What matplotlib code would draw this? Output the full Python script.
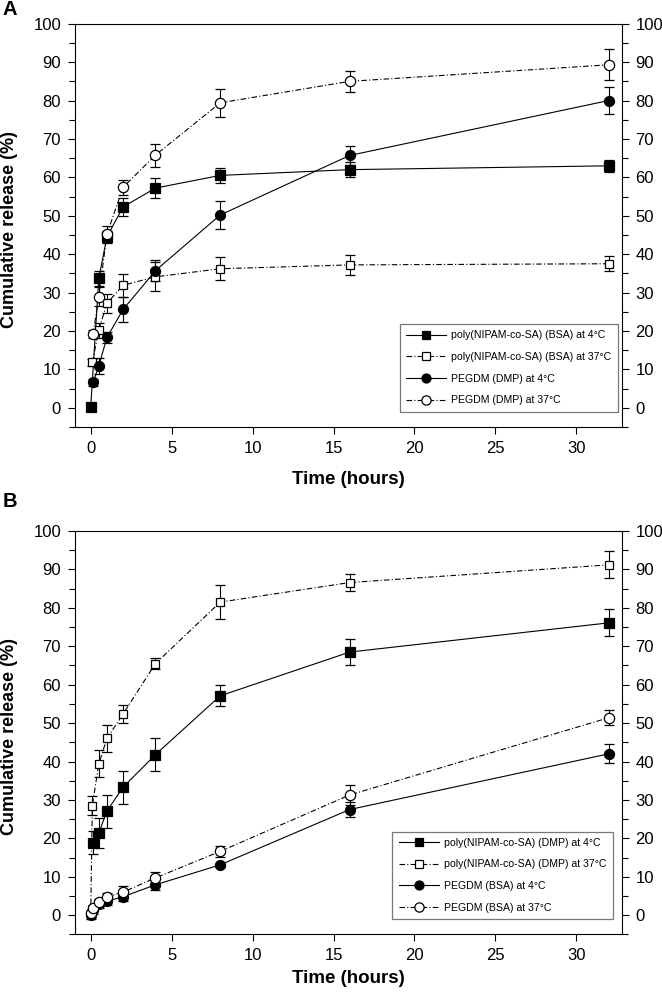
import numpy as np
import matplotlib.pyplot as plt
from matplotlib.ticker import MultipleLocator

plt.rcParams['font.family'] = ['Liberation Sans', 'DejaVu Sans']

# panel A
a_sq_f_x = [0, 0.5, 1, 2, 4, 8, 16, 32]
a_sq_f_y = [0.1, 33.7, 44.5, 52.3, 57.2, 60.5, 62.0, 63.0]
a_sq_f_e = [0.5, 2.0, 1.5, 2.3, 2.5, 2.0, 2.0, 1.5]

a_sq_o_x = [0.1, 0.5, 1, 2, 4, 8, 16, 32]
a_sq_o_y = [11.8, 20.2, 27.2, 31.9, 34.1, 36.2, 37.2, 37.5]
a_sq_o_e = [1.0, 2.0, 2.5, 3.0, 3.8, 3.0, 2.5, 2.0]

a_ci_f_x = [0.15, 0.5, 1, 2, 4, 8, 16, 32]
a_ci_f_y = [6.6, 10.9, 18.3, 25.6, 35.7, 50.2, 65.7, 80.0]
a_ci_f_e = [1.0, 2.0, 1.5, 3.3, 2.7, 3.7, 2.5, 3.5]

a_ci_o_x = [0.15, 0.5, 1, 2, 4, 8, 16, 32]
a_ci_o_y = [19.2, 28.9, 45.2, 57.4, 65.8, 79.4, 85.0, 89.3]
a_ci_o_e = [1.0, 2.5, 2.0, 2.0, 3.0, 3.7, 2.7, 4.0]

a_labels = ["poly(NIPAM-co-SA) (BSA) at 4\u00b0C",
            "poly(NIPAM-co-SA) (BSA) at 37\u00b0C",
            "PEGDM (DMP) at 4\u00b0C",
            "PEGDM (DMP) at 37\u00b0C"]

# panel B
b_sq_f_x = [0.15, 0.5, 1, 2, 4, 8, 16, 32]
b_sq_f_y = [18.9, 21.4, 27.1, 33.3, 41.8, 57.1, 68.5, 76.1]
b_sq_f_e = [3.0, 4.0, 4.3, 4.3, 4.3, 2.7, 3.5, 3.5]

b_sq_o_x = [0, 0.1, 0.5, 1, 2, 4, 8, 16, 32]
b_sq_o_y = [0.0, 28.5, 39.4, 46.0, 52.4, 65.5, 81.5, 86.6, 91.2]
b_sq_o_e = [0.0, 2.5, 3.5, 3.5, 2.3, 1.5, 4.5, 2.2, 3.5]

b_ci_f_x = [0, 0.15, 0.5, 1, 2, 4, 8, 16, 32]
b_ci_f_y = [0.0, 1.3, 2.8, 3.6, 4.8, 7.9, 13.1, 27.5, 42.0]
b_ci_f_e = [1.0, 1.0, 1.0, 1.0, 1.2, 1.3, 0.6, 2.0, 2.5]

b_ci_o_x = [0, 0.15, 0.5, 1, 2, 4, 8, 16, 32]
b_ci_o_y = [0.5, 1.8, 3.3, 4.7, 6.0, 9.7, 16.6, 31.3, 51.4]
b_ci_o_e = [0.5, 0.8, 1.0, 1.0, 1.5, 1.5, 1.5, 2.5, 2.0]

b_labels = ["poly(NIPAM-co-SA) (DMP) at 4\u00b0C",
            "poly(NIPAM-co-SA) (DMP) at 37\u00b0C",
            "PEGDM (BSA) at 4\u00b0C",
            "PEGDM (BSA) at 37\u00b0C"]


def draw_panel(ax, series, labels, letter, letter_y, leg_x, xlab_y):
    dashdot = (0, (5, 2, 1, 2))
    styles = [('s', 'k', '-', 6.5),
              ('s', 'w', dashdot, 6.3),
              ('o', 'k', '-', 7.2),
              ('o', 'w', dashdot, 7.4)]
    handles = []
    for (x, y, e), lab, (m, fc, ls, ms) in zip(series, labels, styles):
        eb = ax.errorbar(x, y, yerr=e, marker=m, markerfacecolor=fc, markeredgecolor='k',
                         markersize=ms, markeredgewidth=0.9, color='k', linestyle=ls,
                         linewidth=0.8, ecolor='k', elinewidth=0.8, capsize=3.6,
                         capthick=0.8, label=lab)
        handles.append(eb[0])
    ax.set_xlim(-0.97, 32.8)
    ax.set_ylim(-5, 100)
    ax.xaxis.set_major_locator(MultipleLocator(5))
    ax.yaxis.set_major_locator(MultipleLocator(10))
    ax.yaxis.set_minor_locator(MultipleLocator(5))
    ax.tick_params(axis='both', which='major', direction='out', length=5,
                   width=0.8, labelsize=12, pad=5)
    ax.tick_params(axis='y', which='both', right=True, labelright=True)
    ax.tick_params(axis='y', which='minor', direction='out', length=4, width=0.8)
    ax.tick_params(axis='x', top=False)
    for sp in ax.spines.values():
        sp.set_linewidth(0.8)
    ax.set_xlabel("Time (hours)", fontsize=13.5, fontweight='bold')
    ax.xaxis.set_label_coords(0.5, xlab_y)
    ax.set_ylabel("Cumulative release (%)", fontsize=13, fontweight='bold')
    ax.yaxis.set_label_coords(-0.104, 0.49)
    leg = ax.legend(handles, labels, loc='lower right', bbox_to_anchor=(leg_x, 0.038),
                    fontsize=7.6, frameon=True, fancybox=False, handlelength=3.8,
                    markerscale=0.9, borderpad=0.6, labelspacing=1.1,
                    handletextpad=0.5, borderaxespad=0)
    leg.get_frame().set_edgecolor('#555555')
    leg.get_frame().set_linewidth(0.9)
    ax.text(-0.132, letter_y, letter, transform=ax.transAxes, fontsize=14.5,
            fontweight='bold', ha='left', va='baseline')


fig = plt.figure(figsize=(6.62, 9.96), dpi=100)
ax_a = fig.add_axes([0.1133, 0.5713, 0.8258, 0.4049])
ax_b = fig.add_axes([0.1133, 0.0619, 0.8258, 0.4049])

draw_panel(ax_a, [(a_sq_f_x, a_sq_f_y, a_sq_f_e), (a_sq_o_x, a_sq_o_y, a_sq_o_e),
                  (a_ci_f_x, a_ci_f_y, a_ci_f_e), (a_ci_o_x, a_ci_o_y, a_ci_o_e)],
           a_labels, "A", 1.021, 0.993, -0.108)
draw_panel(ax_b, [(b_sq_f_x, b_sq_f_y, b_sq_f_e), (b_sq_o_x, b_sq_o_y, b_sq_o_e),
                  (b_ci_f_x, b_ci_f_y, b_ci_f_e), (b_ci_o_x, b_ci_o_y, b_ci_o_e)],
           b_labels, "B", 1.06, 0.9835, -0.088)

fig.savefig("out.png", dpi=100)
